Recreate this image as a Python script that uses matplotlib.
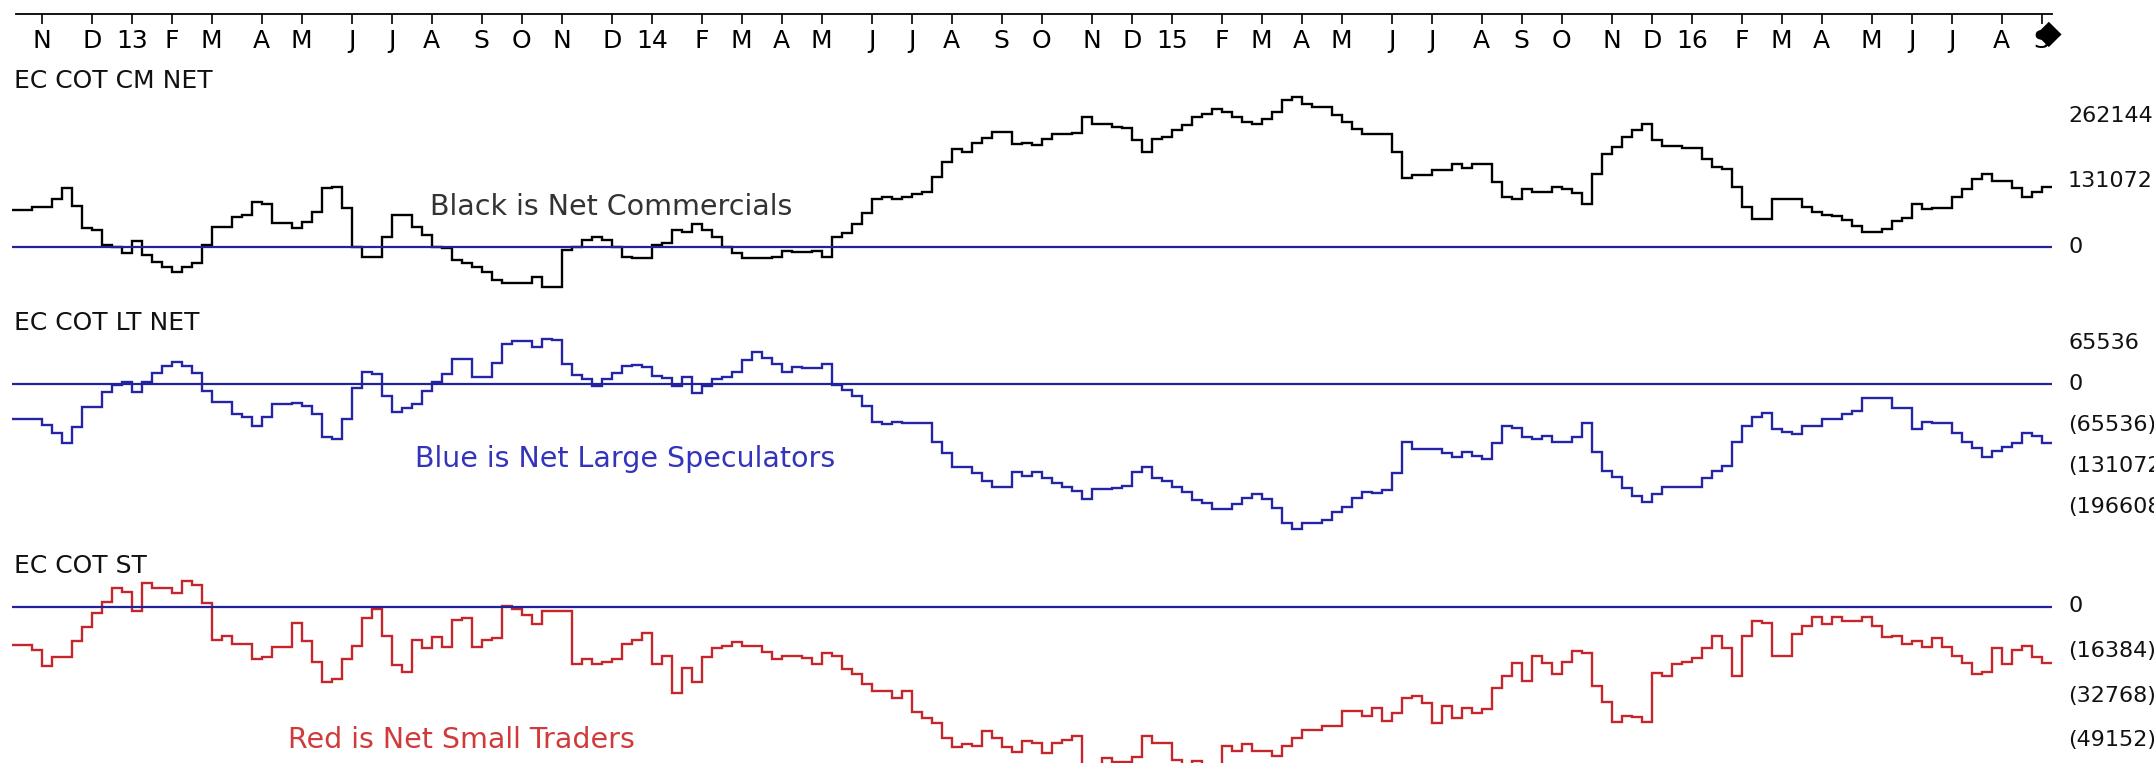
import numpy as np
import pandas as pd
import matplotlib
matplotlib.use("Agg")
import matplotlib.pyplot as plt
import matplotlib.dates as mdates
from matplotlib.transforms import blended_transform_factory

W, H = 2154, 763

# weekly report dates (Fridays)
weeks = pd.date_range("2012-10-12", periods=204, freq="7D")

# net positions, thousands of contracts
commercials = [
    74, 74, 80, 80, 96, 118, 82, 38, 34, 4,
    0, -12, 12, -16, -30, -40, -50, -40, -32, 4,
    40, 40, 60, 64, 90, 86, 48, 48, 38, 50,
    70, 118, 120, 78, 0, -20, -20, 20, 64, 64,
    40, 24, 0, -2, -26, -32, -40, -50, -66, -72,
    -72, -72, -60, -80, -80, -6, 0, 14, 20, 14,
    0, -20, -22, -22, 4, 8, 34, 30, 46, 34,
    20, 0, -12, -22, -22, -22, -20, -8, -10, -10,
    -8, -20, 20, 28, 46, 68, 96, 100, 96, 100,
    106, 110, 140, 170, 196, 190, 208, 218, 230, 230,
    206, 208, 204, 216, 226, 226, 228, 260, 246, 246,
    240, 238, 214, 190, 216, 220, 234, 244, 260, 266,
    276, 270, 260, 250, 246, 256, 270, 294, 300, 286,
    280, 280, 264, 250, 236, 226, 226, 226, 190, 138,
    144, 144, 154, 154, 166, 158, 166, 166, 130, 100,
    96, 116, 110, 110, 120, 116, 108, 86, 146, 186,
    200, 220, 234, 246, 214, 202, 202, 198, 198, 176,
    160, 156, 120, 80, 56, 56, 96, 96, 96, 80,
    70, 64, 62, 54, 42, 30, 30, 36, 52, 58,
    86, 76, 78, 78, 100, 116, 136, 146, 132, 132,
    118, 100, 110, 120,
]
large_specs = [
    -56, -56, -56, -66, -78, -94, -69, -37, -37, -13,
    -2, 3, -13, 3, 18, 29, 35, 29, 18, -11,
    -29, -29, -48, -53, -67, -53, -32, -32, -30, -35,
    -48, -85, -88, -56, -6, 19, 16, -19, -45, -38,
    -32, -11, 3, 16, 40, 40, 11, 11, 34, 64,
    69, 69, 59, 72, 70, 32, 14, 8, -3, 8,
    18, 29, 30, 27, 13, 10, -3, 11, -14, -3,
    8, 11, 19, 38, 51, 42, 32, 19, 27, 26,
    26, 32, -2, -10, -19, -35, -61, -64, -61, -62,
    -62, -62, -93, -110, -133, -133, -142, -155, -165, -165,
    -141, -147, -141, -150, -158, -165, -171, -184, -168, -168,
    -166, -163, -141, -133, -150, -155, -165, -173, -186, -190,
    -200, -200, -192, -182, -176, -184, -198, -222, -232, -222,
    -222, -218, -205, -197, -182, -173, -174, -170, -142, -93,
    -104, -104, -104, -110, -117, -109, -115, -120, -94, -67,
    -70, -85, -88, -83, -93, -93, -85, -62, -109, -139,
    -149, -166, -179, -189, -176, -165, -165, -165, -165, -150,
    -139, -131, -93, -67, -53, -46, -72, -77, -80, -67,
    -67, -56, -56, -48, -43, -22, -22, -22, -38, -38,
    -72, -61, -62, -62, -78, -93, -102, -117, -107, -101,
    -94, -78, -83, -94,
]
small_traders = [
    -14.2, -14.2, -16.0, -21.9, -18.6, -18.6, -12.7, -7.5, -2.4, 1.7,
    6.8, 5.3, -1.7, 8.6, 6.8, 6.8, 5.0, 9.4, 7.9, 1.3,
    -12.3, -10.9, -13.8, -13.8, -19.3, -18.6, -14.9, -14.9, -6.1, -12.7,
    -20.4, -27.8, -26.7, -19.3, -14.5, -4.2, -0.9, -10.9, -21.5, -24.1,
    -12.3, -15.3, -11.2, -14.9, -5.0, -4.2, -14.9, -12.3, -11.6, 0.2,
    -0.9, -3.1, -6.4, -1.7, -1.7, -1.7, -21.2, -19.3, -21.2, -20.4,
    -19.3, -13.8, -12.3, -9.8, -21.2, -18.2, -31.8, -22.6, -27.8, -18.6,
    -15.3, -14.5, -13.1, -14.5, -14.5, -16.7, -19.3, -18.2, -18.2, -19.0,
    -21.2, -17.1, -18.2, -23.0, -24.8, -28.5, -31.1, -31.1, -33.7, -31.1,
    -38.8, -41.0, -42.9, -48.4, -51.7, -50.6, -51.3, -45.8, -48.4, -51.7,
    -53.5, -49.5, -50.2, -53.9, -50.2, -49.1, -47.7, -62.0, -62.0, -55.8,
    -57.2, -57.2, -55.4, -47.7, -50.2, -50.2, -56.5, -60.2, -56.9, -60.2,
    -59.4, -51.3, -53.2, -50.6, -53.2, -53.2, -55.0, -51.3, -48.4, -45.4,
    -45.4, -44.0, -44.0, -38.5, -38.5, -40.3, -37.4, -42.1, -39.2, -33.7,
    -32.9, -35.5, -42.9, -36.6, -41.0, -37.4, -39.2, -37.7, -30.0, -25.6,
    -20.8, -27.4, -18.2, -20.8, -24.8, -20.4, -16.4, -17.1, -29.3, -35.1,
    -42.5, -40.3, -40.7, -42.5, -24.5, -25.6, -21.2, -20.4, -19.0, -15.3,
    -10.9, -15.3, -25.6, -10.9, -5.3, -6.1, -18.2, -18.2, -10.1, -7.2,
    -3.9, -6.4, -3.9, -5.3, -5.3, -3.9, -7.2, -11.2, -10.9, -13.8,
    -12.7, -14.9, -11.6, -14.9, -18.2, -20.8, -24.8, -24.1, -15.3, -21.2,
    -16.0, -14.5, -18.6, -20.8,
]

titles = ["EC COT CM NET", "EC COT LT NET", "EC COT ST"]
notes = ["Black is Net Commercials", "Blue is Net Large Speculators", "Red is Net Small Traders"]
cm_levels = [262144, 131072, 0]
lt_levels = [65536, 0, -65536, -131072, -196608]
st_levels = [0, -16384, -32768, -49152]


def level_label(v):
    return "(%d)" % -v if v < 0 else "%d" % v


def fy(p):
    # pixel row from the top -> figure fraction
    return 1 - p / H


plt.rcParams["font.family"] = ["DejaVu Sans"]
fig = plt.figure(figsize=(W / 100, H / 100), dpi=100)
fig.patch.set_facecolor("white")

edges = mdates.date2num(weeks)
edges = np.append(edges, edges[-1] + 7)
dpp = 0.7  # days per pixel
xlo = edges[0] - 11.7 * dpp
xhi = xlo + W * dpp

# values, line colour, zero row, k contracts per pixel, levels, title row, note x, note row, note colour
panels = [
    (commercials, "black", 247, 2.0, cm_levels, 88, 430, 215, "#333333"),
    (large_specs, "#2424a4", 384, 1.6, lt_levels, 330, 415, 467, "#3333bb"),
    (small_traders, "#c4262b", 606.5, 0.368, st_levels, 573, 288, 748, "#d03a3a"),
]

for i, (vals, col, zero, kpp, levels, trow, nx, nrow, ncol) in enumerate(panels):
    ax = fig.add_axes([0, 0, 1, 1])
    ax.patch.set_alpha(0)
    ax.set_xlim(xlo, xhi)
    ax.set_ylim((zero - H) * kpp, zero * kpp)
    ax.axis("off")
    ax.hlines(0, edges[0], edges[-1], color="#22229a", lw=1.6)
    ax.stairs(vals, edges, baseline=None, color=col, lw=1.7)
    tr = blended_transform_factory(fig.transFigure, ax.transData)
    for v in levels:
        ax.text(2068 / W, v / 1000, level_label(v), transform=tr, ha="left",
                va="center", fontsize=16, color="#111111")
    fig.text(14 / W, fy(trow), titles[i], fontsize=18, va="baseline", color="#111111")
    fig.text(nx / W, fy(nrow), notes[i], fontsize=20.5, va="baseline", color=ncol)

# month scale along the top
axt = fig.add_axes([0, fy(14), 1, 0.0001])
axt.patch.set_alpha(0)
axt.set_xlim(xlo, xhi)
axt.set_yticks([])
for s in ["top", "left", "right"]:
    axt.spines[s].set_visible(False)
axt.spines["bottom"].set_bounds(xlo + 16 * dpp, xlo + 2052 * dpp)
axt.spines["bottom"].set_linewidth(1.3)
ticks = [d for prev, d in zip(weeks[:-1], weeks[1:]) if d.month != prev.month]
labels = ["%02d" % (d.year % 100) if d.month == 1 else "JFMAMJJASOND"[d.month - 1] for d in ticks]
axt.set_xticks(mdates.date2num(ticks))
axt.set_xticklabels(labels, fontsize=18)
axt.tick_params(axis="x", direction="out", length=7, width=1.2, pad=4)
fig.text(2049 / W, fy(33), "\u25c6", ha="center", va="center", fontsize=24, color="black")

fig.savefig("out.png", dpi=100)
